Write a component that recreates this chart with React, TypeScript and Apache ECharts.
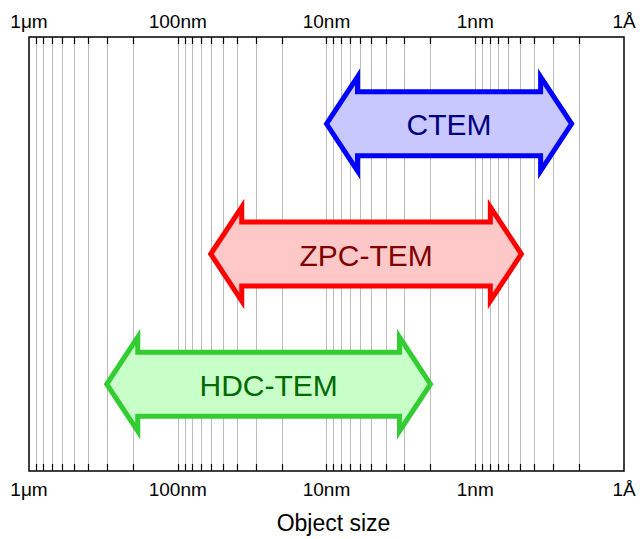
import React, { useEffect, useRef } from "react";
import * as echarts from "echarts";

// Axis ticks (object size in nm) and their labels
const tickValues = [1000, 100, 10, 1, 0.1];
const tickLabels = ["1μm", "100nm", "10nm", "1nm", "1Å"];

// Vertical grid lines (nm)
const gridValues = [
  900, 800, 700, 600, 500, 400, 300, 200, 100,
  90, 80, 70, 60, 50, 40, 30, 20, 10,
  9, 8, 7, 6, 5, 4, 3, 2, 1,
  0.9, 0.8, 0.7, 0.6, 0.5, 0.4, 0.3, 0.2,
];

// Techniques and their size ranges (nm)
const techniques = ["CTEM", "ZPC-TEM", "HDC-TEM"];
const rangeFrom = [10, 60, 300];
const rangeTo = [0.225, 0.49, 2];
const rowPos = [8, 5, 2];

const strokeColors = ["#0000ff", "#ff0000", "#33cc33"];
const fillColors = ["#c8c8ff", "#ffc8c8", "#c8ffc8"];
const textColors = ["#000080", "#800000", "#006a00"];

const FONT = "'Liberation Sans', Arial, Helvetica, sans-serif";

function labelFor(v: number): string {
  for (let i = 0; i < tickValues.length; i++) {
    if (Math.abs(Math.log10(v) - Math.log10(tickValues[i])) < 1e-6) return tickLabels[i];
  }
  return "";
}

export default function App() {
  const ref = useRef<HTMLDivElement>(null);
  useEffect(() => {
    if (!ref.current) return;
    const chart = echarts.init(ref.current, undefined, { renderer: "svg" });
    const xBase = {
      type: "log" as const,
      logBase: 10,
      min: 0.1,
      max: 1000,
      inverse: true,
      axisLine: { show: false },
      axisTick: { show: false },
      splitLine: { show: false },
      minorTick: { show: false },
      minorSplitLine: { show: false },
    };
    chart.setOption({
      animation: false,
      backgroundColor: "#ffffff",
      grid: {
        left: 29,
        right: 18,
        top: 37,
        bottom: 63,
        show: true,
        borderColor: "#000",
        borderWidth: 1.5,
        backgroundColor: "transparent",
      },
      xAxis: [
        {
          ...xBase,
          position: "bottom",
          name: "Object size",
          nameLocation: "middle",
          nameGap: 40,
          nameTextStyle: { fontSize: 23, color: "#000", fontFamily: FONT, padding: [0, 0, 0, 14] },
          axisLabel: {
            formatter: (v: number) => labelFor(v),
            fontSize: 19,
            color: "#000",
            fontFamily: FONT,
            margin: 9,
            showMinLabel: true,
            showMaxLabel: true,
          },
        },
        {
          ...xBase,
          position: "top",
          axisLabel: {
            formatter: (v: number) => labelFor(v),
            fontSize: 19,
            color: "#000",
            fontFamily: FONT,
            margin: 6,
            showMinLabel: true,
            showMaxLabel: true,
          },
        },
      ],
      yAxis: {
        type: "value",
        min: 0,
        max: 10,
        show: false,
        splitLine: { show: false },
      },
      series: [
        {
          type: "custom",
          xAxisIndex: 0,
          z: 1,
          silent: true,
          encode: { x: 0, y: 1 },
          data: gridValues.map((v) => [v, 0]),
          renderItem: (params: any, api: any) => {
            const v = api.value(0);
            const top = api.coord([v, 10]);
            const bot = api.coord([v, 0]);
            const x = Math.round(top[0]) + 0.5;
            return {
              type: "group",
              children: [
                {
                  type: "line",
                  shape: { x1: x, y1: top[1], x2: x, y2: bot[1] },
                  style: { stroke: "#bdbdbd", lineWidth: 1 },
                },
                {
                  type: "line",
                  shape: { x1: x, y1: top[1], x2: x, y2: top[1] + 7 },
                  style: { stroke: "#000", lineWidth: 1.2 },
                },
                {
                  type: "line",
                  shape: { x1: x, y1: bot[1], x2: x, y2: bot[1] - 7 },
                  style: { stroke: "#000", lineWidth: 1.2 },
                },
              ],
            };
          },
        },
        {
          type: "custom",
          xAxisIndex: 0,
          z: 2,
          silent: true,
          encode: { x: [0, 1], y: 2 },
          data: techniques.map((t, i) => [rangeFrom[i], rangeTo[i], rowPos[i], i]),
          renderItem: (params: any, api: any) => {
            const i = api.value(3);
            const y = api.value(2);
            const p1 = api.coord([api.value(0), y]);
            const p2 = api.coord([api.value(1), y]);
            const L = Math.min(p1[0], p2[0]);
            const R = Math.max(p1[0], p2[0]);
            const cy = p1[1];
            const H = 47;
            const S = 32;
            const A = 31;
            const points = [
              [L, cy],
              [L + A, cy - H],
              [L + A, cy - S],
              [R - A, cy - S],
              [R - A, cy - H],
              [R, cy],
              [R - A, cy + H],
              [R - A, cy + S],
              [L + A, cy + S],
              [L + A, cy + H],
            ];
            return {
              type: "group",
              children: [
                {
                  type: "polygon",
                  shape: { points },
                  style: {
                    fill: fillColors[i],
                    stroke: strokeColors[i],
                    lineWidth: 5,
                    lineJoin: "miter",
                    miterLimit: 10,
                  },
                },
                {
                  type: "text",
                  x: (L + R) / 2,
                  y: cy + 1,
                  style: {
                    text: techniques[i],
                    fill: textColors[i],
                    fontSize: 30,
                    fontFamily: FONT,
                    align: "center",
                    verticalAlign: "middle",
                  },
                },
              ],
            };
          },
        },
      ],
    });
    return () => chart.dispose();
  }, []);
  return (
    <div
      ref={ref}
      style={{ position: "fixed", left: 0, top: 0, width: 642, height: 539 }}
    />
  );
}
